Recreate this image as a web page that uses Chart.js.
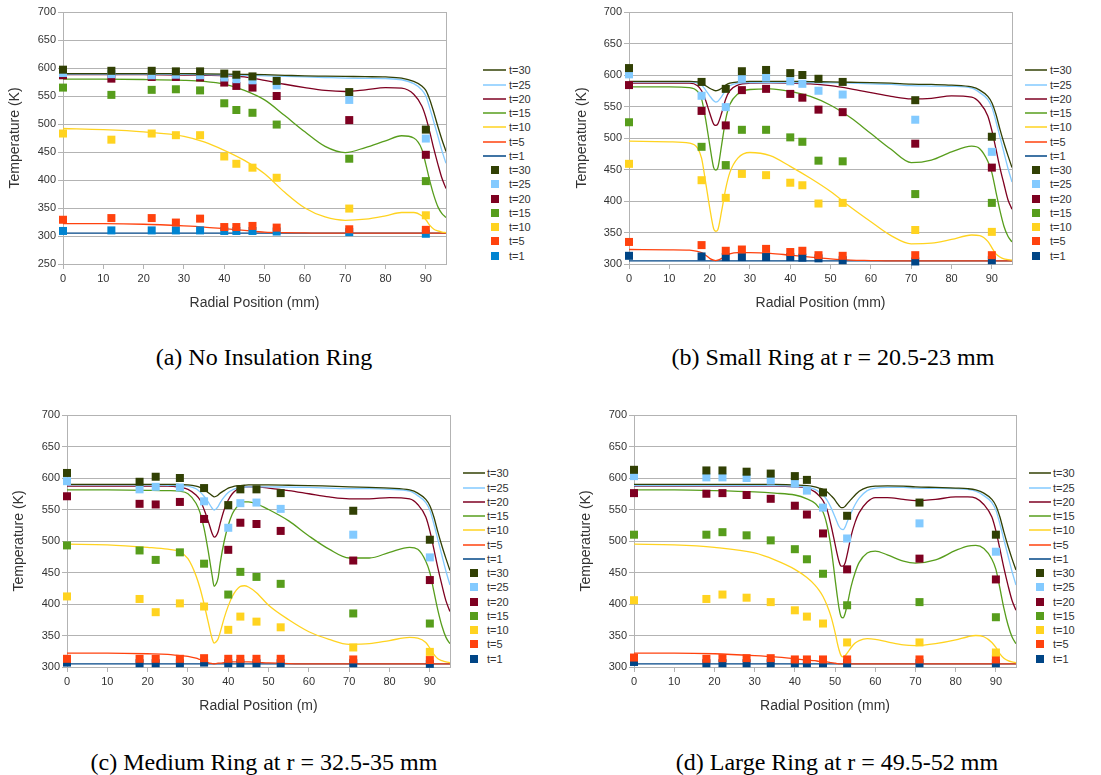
<!DOCTYPE html>
<html>
<head>
<meta charset="utf-8">
<script src="https://cdn.jsdelivr.net/npm/chart.js@4.4.1/dist/chart.umd.min.js"></script>
<style>
  body { margin: 0; background: #fff; width: 1101px; height: 775px; position: relative; overflow: hidden; font-family: "Liberation Sans", Arial, sans-serif; }
  canvas { position: absolute; }
  .legend { position: absolute; left: 0; top: 0; font-size: 11px; color: #333; }
  .legend .row { position: absolute; height: 14px; line-height: 14px; white-space: nowrap; }
  .legend .swatch-line { position: absolute; height: 2px; }
  .legend .swatch-box { position: absolute; width: 8px; height: 8px; }
  .caption { position: absolute; width: 440px; text-align: center; white-space: nowrap; font-family: "Liberation Serif", "Times New Roman", serif; font-size: 24px; line-height: 24px; color: #000; }
</style>
</head>
<body>
<canvas id="chartA" width="452" height="320" style="left:0px;top:0px"></canvas>
<canvas id="chartB" width="468" height="320" style="left:550px;top:0px"></canvas>
<canvas id="chartC" width="456" height="323" style="left:0px;top:400px"></canvas>
<canvas id="chartD" width="472" height="323" style="left:550px;top:400px"></canvas>
<div id="legends"></div>
<div class="caption" style="left:44px;top:345px">(a) No Insulation Ring</div>
<div class="caption" style="left:613px;top:345px">(b) Small Ring at r = 20.5-23 mm</div>
<div class="caption" style="left:44px;top:750px">(c) Medium Ring at r = 32.5-35 mm</div>
<div class="caption" style="left:617px;top:750px">(d) Large Ring at r = 49.5-52 mm</div>

<script>
// series names, same order for simulated lines and measured squares
const timeLabels = ['t=30', 't=25', 't=20', 't=15', 't=10', 't=5', 't=1'];
const lineColors = ['#314004', '#83caff', '#7e0021', '#579d1c', '#ffd320', '#ff420e', '#004586'];
const squareColorsA = ['#314004', '#83caff', '#7e0021', '#579d1c', '#ffd320', '#ff420e', '#0084d1'];
const squareColors = ['#314004', '#83caff', '#7e0021', '#579d1c', '#ffd320', '#ff420e', '#004586'];

// ---------- (a) No Insulation Ring ----------
const measPosA = [0, 12, 22, 28, 34, 40, 43, 47, 53, 71, 90];
const measA_t30 = [597, 595, 595, 594, 594, 590, 588, 585, 577, 557, 490];
const measA_t25 = [591, 589, 587, 588, 587, 583, 580, 578, 569, 543, 474];
const measA_t20 = [587, 581, 584, 584, 583, 574, 568, 565, 550, 507, 445];
const measA_t15 = [565, 552, 561, 562, 560, 537, 525, 520, 499, 438, 398];
const measA_t10 = [483, 472, 483, 480, 480, 442, 429, 422, 404, 349, 337];
const measA_t5 = [329, 332, 332, 324, 331, 316, 316, 318, 315, 312, 311];
const measA_t1 = [309, 310, 310, 310, 310, 309, 309, 309, 308, 307, 304];

const simXA = [0, 10, 20, 30, 35, 40, 45, 50, 55, 60, 65, 70, 75, 80, 84, 87, 89, 90, 91, 92, 93, 94, 95];
const simA_t30 = [590, 590, 590, 590, 589.5, 589, 588.5, 588, 587, 586, 585.5, 585, 584.5, 584, 582, 576, 568, 560, 543, 520, 495, 472, 451];
const simA_t25 = [589, 589, 589, 588.5, 588, 587.5, 587, 586, 585, 584, 583, 582, 581.5, 581, 579, 572, 561, 550, 528, 503, 478, 452, 430];
const simA_t20 = [588, 588, 588, 587.5, 587, 586.5, 584, 578, 571, 565, 560, 558, 561, 565, 564, 553, 532, 512, 485, 455, 428, 403, 385];
const simA_t15 = [580, 580, 579.5, 578, 576, 571, 560, 543, 515, 486, 460, 449, 458, 470, 479, 475, 455, 428, 398, 372, 352, 340, 333];
const simA_t10 = [492, 490, 486, 478, 468, 453, 435, 411, 378, 350, 334, 328, 330, 336, 342, 342, 336, 329, 319, 312, 309, 307, 306];
const simA_t5 = [322, 322, 321, 318, 316, 313, 310, 307, 306, 305.5, 305, 305, 305, 305, 305, 305, 305, 305, 305, 305, 305, 305, 305];
const simA_t1 = [305, 305, 305, 305, 305, 305, 305, 305, 305, 305, 305, 305, 305, 305, 305, 305, 305, 305, 305, 305, 305, 305, 305];

// ---------- (b) Small Ring at r = 20.5-23 mm ----------
const measPosB = [0, 18, 24, 28, 34, 40, 43, 47, 53, 71, 90];
const measB_t30 = [611, 589, 578, 606, 608, 603, 600, 594, 589, 560, 502];
const measB_t25 = [601, 567, 549, 594, 596, 590, 586, 575, 569, 529, 478];
const measB_t20 = [584, 543, 520, 576, 578, 570, 564, 545, 541, 491, 453];
const measB_t15 = [525, 486, 457, 513, 513, 501, 494, 464, 463, 411, 397];
const measB_t10 = [459, 433, 405, 443, 441, 429, 425, 396, 397, 354, 351];
const measB_t5 = [335, 330, 321, 323, 324, 319, 321, 314, 313, 314, 314];
const measB_t1 = [313, 312, 311, 311, 311, 311, 310, 309, 306, 304, 306];

const simXB = [0, 10, 15, 17, 18, 19, 20, 21, 21.5, 22, 23, 24, 25, 27, 30, 35, 40, 45, 50, 55, 60, 65, 70, 75, 80, 85, 87, 89, 90, 91, 92, 93, 94, 95];
const simB_t30 = [590, 590, 590, 589, 587, 583, 579, 576, 575, 575.5, 579, 584, 587, 589, 590, 590, 590, 589.5, 589, 588.5, 588, 587, 585.5, 585, 584, 581, 576, 566, 556, 538, 514, 492, 472, 453];
const simB_t25 = [589, 589, 589, 587, 584, 576, 567, 559, 557, 558, 566, 576, 583, 587, 588, 588, 588, 588, 587.5, 587, 586, 585, 583, 582.5, 582, 579, 572, 561, 549, 527, 502, 477, 452, 430];
const simB_t20 = [587, 587, 587, 583, 575, 560, 540, 522, 520, 522, 540, 562, 575, 584, 587, 587.5, 587, 586, 583, 578, 572, 566, 562, 563, 567, 565, 556, 535, 512, 483, 453, 427, 402, 387];
const simB_t15 = [581, 581, 580, 574, 562, 530, 490, 453, 449, 452, 490, 530, 553, 570, 577, 578, 574, 566, 552, 532, 507, 482, 461, 465, 478, 487, 483, 463, 445, 415, 385, 360, 344, 335];
const simB_t10 = [495, 494, 492, 484, 468, 430, 390, 356, 352, 354, 385, 420, 445, 468, 477, 472, 455, 436, 415, 390, 367, 345, 332, 333, 339, 346, 345, 336, 326, 316, 311, 308, 307, 306];
const simB_t5 = [323, 322.5, 322, 320, 318, 314, 309, 306, 305.5, 306, 309, 313, 316, 318, 318, 317, 314, 311, 308, 306, 305.5, 305, 305, 305, 305, 305, 305, 305, 305, 305, 305, 305, 305, 305];
const simB_t1 = [305, 305, 305, 305, 305, 305, 305, 305, 305, 305, 305, 305, 305, 305, 305, 305, 305, 305, 305, 305, 305, 305, 305, 305, 305, 305, 305, 305, 305, 305, 305, 305, 305, 305];

// ---------- (c) Medium Ring at r = 32.5-35 mm ----------
const measPosC = [0, 18, 22, 28, 34, 40, 43, 47, 53, 71, 90];
const measC_t30 = [608, 594, 602, 600, 584, 557, 582, 582, 576, 548, 502];
const measC_t25 = [595, 582, 586, 585, 563, 521, 560, 561, 551, 510, 474];
const measC_t20 = [571, 559, 558, 562, 535, 486, 529, 527, 516, 469, 438];
const measC_t15 = [493, 485, 470, 482, 464, 415, 451, 443, 432, 385, 369];
const measC_t10 = [412, 408, 387, 401, 396, 359, 380, 372, 363, 331, 324];
const measC_t5 = [313, 313, 313, 313, 314, 313, 313, 313, 313, 312, 311];
const measC_t1 = [307, 306, 306, 306, 307, 306, 306, 306, 306, 306, 305];

const simXC = [0, 10, 20, 25, 28, 30, 32, 33, 34, 35, 36, 36.5, 37, 37.5, 38, 39, 40, 41, 42, 43, 44, 45, 47, 50, 55, 60, 65, 70, 75, 80, 85, 87, 89, 90, 91, 92, 93, 94, 95];
const simC_t30 = [590, 590, 590, 590, 589.5, 589, 587, 585, 582, 577, 572, 570, 571, 573, 576, 580, 584, 586, 587.5, 588, 588.5, 589, 589, 589, 588.5, 588, 587, 586, 585, 584, 581, 576, 566, 556, 538, 514, 492, 472, 453];
const simC_t25 = [589, 589, 589, 588.5, 588, 587, 583, 578, 571, 562, 552, 549, 551, 555, 561, 570, 577, 581, 583.5, 585, 585.5, 586, 586, 586, 585.5, 585, 584, 583, 583, 582, 579, 572, 561, 549, 527, 502, 477, 452, 430];
const simC_t20 = [587, 587, 587, 587, 585, 582, 573, 565, 550, 532, 512, 506, 508, 515, 528, 550, 565, 575, 581, 584, 585.5, 586, 586, 584, 580, 575, 570, 567, 567, 569, 567, 558, 538, 516, 487, 457, 430, 405, 388];
const simC_t15 = [581, 581, 580.5, 580, 579, 575, 560, 545, 520, 485, 445, 428, 432, 442, 465, 500, 525, 543, 553, 559, 562, 562, 559, 550, 532, 508, 487, 473, 473, 482, 490, 487, 468, 450, 420, 390, 365, 347, 337];
const simC_t10 = [495, 494, 490, 487, 483, 472, 445, 425, 400, 372, 345, 338, 340, 345, 355, 378, 397, 412, 422, 428, 429, 427, 418, 398, 375, 356, 344, 336, 337, 342, 347, 346, 339, 330, 320, 313, 310, 308, 307];
const simC_t5 = [322, 322, 321, 320, 318, 317, 314, 312, 310, 307, 305.5, 305, 305.5, 306, 306, 307, 307.5, 308, 308, 308, 308, 308, 307.5, 306.5, 305.5, 305, 305, 305, 305, 305, 305, 305, 305, 305, 305, 305, 305, 305, 305];
const simC_t1 = [305, 305, 305, 305, 305, 305, 305, 305, 305, 305, 305, 305, 305, 305, 305, 305, 305, 305, 305, 305, 305, 305, 305, 305, 305, 305, 305, 305, 305, 305, 305, 305, 305, 305, 305, 305, 305, 305, 305];

// ---------- (d) Large Ring at r = 49.5-52 mm ----------
const measPosD = [0, 18, 22, 28, 34, 40, 43, 47, 53, 71, 90];
const measD_t30 = [613, 612, 612, 610, 607, 603, 597, 577, 540, 561, 510];
const measD_t25 = [603, 601, 601, 600, 596, 591, 580, 553, 504, 528, 483];
const measD_t20 = [576, 575, 576, 573, 567, 556, 542, 512, 455, 472, 439];
const measD_t15 = [510, 510, 514, 509, 501, 487, 471, 448, 398, 403, 379];
const measD_t10 = [406, 408, 415, 410, 403, 390, 380, 369, 339, 339, 323];
const measD_t5 = [315, 313, 314, 314, 314, 312, 312, 312, 312, 312, 312];
const measD_t1 = [308, 306, 306, 306, 306, 306, 306, 306, 306, 306, 306];

const simXD = [0, 10, 20, 30, 35, 40, 43, 45, 46, 47, 48, 49, 50, 50.5, 51, 51.5, 52, 52.5, 53, 54, 55, 56, 58, 60, 63, 67, 70, 75, 80, 83, 85, 87, 89, 90, 91, 92, 93, 94, 95];
const simD_t30 = [590, 590, 590, 590, 590, 589, 588, 586, 584, 582, 578, 572, 565, 560, 556, 553, 553, 555, 559, 566, 573, 579, 585, 587, 587.5, 587, 586, 585, 584, 583, 581, 576, 566, 556, 538, 514, 492, 472, 454];
const simD_t25 = [588, 588, 588, 588, 588, 587, 585, 582, 578, 573, 565, 553, 538, 530, 523, 519, 518, 522, 530, 545, 558, 568, 580, 584, 585, 585, 584, 583.5, 583, 582, 579, 572, 561, 549, 527, 502, 477, 452, 430];
const simD_t20 = [587, 587, 587, 587, 587, 586, 584, 578, 572, 564, 550, 525, 495, 480, 467, 460, 460, 465, 478, 508, 530, 545, 562, 569, 569, 566, 564, 566, 570, 570, 568, 558, 538, 516, 487, 457, 430, 406, 390];
const simD_t15 = [581, 581, 580, 578, 576, 573, 567, 560, 553, 546, 525, 490, 440, 415, 393, 380, 378, 385, 398, 428, 450, 466, 481, 484, 478, 468, 465, 470, 485, 492, 493, 488, 471, 455, 425, 393, 367, 348, 337];
const simD_t10 = [495, 494, 490, 481, 470, 455, 442, 430, 422, 412, 398, 380, 355, 340, 327, 318, 316, 318, 322, 331, 338, 342, 345, 344, 340, 335, 334, 337, 343, 348, 350, 348, 339, 331, 321, 314, 310, 308, 307];
const simD_t5 = [322, 322, 321, 318, 316, 313, 311, 310, 309, 308.5, 308, 307, 306, 305.5, 305, 305, 305, 305, 305, 305, 305, 305, 305, 305, 305, 305, 305, 305, 305, 305, 305, 305, 305, 305, 305, 305, 305, 305, 305];
const simD_t1 = [305, 305, 305, 305, 305, 305, 305, 305, 305, 305, 305, 305, 305, 305, 305, 305, 305, 305, 305, 305, 305, 305, 305, 305, 305, 305, 305, 305, 305, 305, 305, 305, 305, 305, 305, 305, 305, 305, 305];

const gridColor = '#b3b3b3';
const tickFont = { family: "'Liberation Sans', Arial, sans-serif", size: 11 };
const titleFont = { family: "'Liberation Sans', Arial, sans-serif", size: 14 };

// thin frame line on the right side of the plot area
const plotFrame = {
  id: 'plotFrame',
  beforeDatasetsDraw(chart) {
    const { ctx, chartArea } = chart;
    ctx.save();
    ctx.strokeStyle = gridColor;
    ctx.lineWidth = 1;
    ctx.beginPath();
    ctx.moveTo(Math.round(chartArea.right) + 0.5, chartArea.top);
    ctx.lineTo(Math.round(chartArea.right) + 0.5, chartArea.bottom);
    ctx.stroke();
    ctx.restore();
  }
};

function buildDatasets(simX, simSeries, measX, measSeries, boxColors) {
  const datasets = [];
  simSeries.forEach(function (vals, i) {
    datasets.push({
      label: timeLabels[i],
      data: simX.map((x, j) => ({ x: x, y: vals[j] })),
      borderColor: lineColors[i],
      backgroundColor: lineColors[i],
      borderWidth: 1.3,
      pointRadius: 0,
      cubicInterpolationMode: 'monotone',
      fill: false,
      order: 1
    });
  });
  measSeries.forEach(function (vals, i) {
    datasets.push({
      label: timeLabels[i],
      data: measX.map((x, j) => ({ x: x, y: vals[j] })),
      showLine: false,
      pointStyle: 'rect',
      pointRadius: 5.66,
      pointBorderWidth: 0,
      backgroundColor: boxColors[i],
      borderColor: boxColors[i],
      clip: false,   // squares at x=0 must not be cut in half
      order: 0
    });
  });
  return datasets;
}

function makeChart(id, datasets, cfg) {
  const ctx = document.getElementById(id).getContext('2d');
  return new Chart(ctx, {
    type: 'line',
    data: { datasets: datasets },
    options: {
      responsive: false,
      animation: false,
      devicePixelRatio: 1,
      layout: { padding: { left: 0, top: cfg.padTop, right: 6, bottom: 0 } },
      plugins: { legend: { display: false }, tooltip: { enabled: false } },
      scales: {
        x: {
          type: 'linear',
          min: 0,
          max: 95,
          ticks: { stepSize: 10, includeBounds: false, font: tickFont, color: '#333', padding: 3, maxRotation: 0 },
          grid: { drawOnChartArea: false, color: gridColor, tickLength: 5 },
          border: { color: gridColor },
          title: { display: true, text: cfg.xTitle, font: titleFont, color: '#333', padding: { top: 0, bottom: cfg.xTitlePad } },
          afterFit: function (scale) { scale.height = 56; }
        },
        y: {
          min: cfg.yMin,
          max: 700,
          ticks: { stepSize: 50, font: tickFont, color: '#333', padding: 2 },
          grid: { color: gridColor, tickLength: 5 },
          border: { color: gridColor },
          title: { display: true, text: 'Temperature (K)', font: titleFont, color: '#333', padding: { top: cfg.yTitlePad, bottom: 0 } },
          afterFit: function (scale) { scale.width = cfg.yWidth; }
        }
      }
    },
    plugins: [plotFrame]
  });
}

// legend drawn as html next to each chart
function buildLegend(pos, boxColors) {
  const holder = document.getElementById('legends');
  const wrap = document.createElement('div');
  wrap.className = 'legend';
  const rowStep = 14.26;
  const rows = [];
  timeLabels.forEach((lab, i) => rows.push({ lab: lab, kind: 'line', color: lineColors[i] }));
  timeLabels.forEach((lab, i) => rows.push({ lab: lab, kind: 'box', color: boxColors[i] }));
  rows.forEach(function (r, i) {
    const cy = pos.rowY + i * rowStep;
    const row = document.createElement('div');
    row.className = 'row';
    row.style.left = pos.textX + 'px';
    row.style.top = (cy - 7) + 'px';
    row.textContent = r.lab;
    wrap.appendChild(row);
    const sw = document.createElement('div');
    if (r.kind === 'line') {
      sw.className = 'swatch-line';
      sw.style.left = pos.lineX + 'px';
      sw.style.width = pos.lineW + 'px';
      sw.style.top = (cy - 1) + 'px';
      sw.style.background = r.color;
      sw.style.opacity = 0.75;
    } else {
      sw.className = 'swatch-box';
      sw.style.left = (pos.boxX - 4) + 'px';
      sw.style.top = (cy - 4) + 'px';
      sw.style.background = r.color;
    }
    wrap.appendChild(sw);
  });
  holder.appendChild(wrap);
}

document.addEventListener('DOMContentLoaded', function () {
  makeChart('chartA',
    buildDatasets(simXA, [simA_t30, simA_t25, simA_t20, simA_t15, simA_t10, simA_t5, simA_t1],
      measPosA, [measA_t30, measA_t25, measA_t20, measA_t15, measA_t10, measA_t5, measA_t1], squareColorsA),
    { yMin: 250, padTop: 12, yWidth: 63, yTitlePad: 7, xTitle: 'Radial Position (mm)', xTitlePad: 8.5 });

  makeChart('chartB',
    buildDatasets(simXB, [simB_t30, simB_t25, simB_t20, simB_t15, simB_t10, simB_t5, simB_t1],
      measPosB, [measB_t30, measB_t25, measB_t20, measB_t15, measB_t10, measB_t5, measB_t1], squareColors),
    { yMin: 300, padTop: 12, yWidth: 79, yTitlePad: 23.5, xTitle: 'Radial Position (mm)', xTitlePad: 8.5 });

  makeChart('chartC',
    buildDatasets(simXC, [simC_t30, simC_t25, simC_t20, simC_t15, simC_t10, simC_t5, simC_t1],
      measPosC, [measC_t30, measC_t25, measC_t20, measC_t15, measC_t10, measC_t5, measC_t1], squareColors),
    { yMin: 300, padTop: 15, yWidth: 67, yTitlePad: 10.5, xTitle: 'Radial Position (m)', xTitlePad: 8 });

  makeChart('chartD',
    buildDatasets(simXD, [simD_t30, simD_t25, simD_t20, simD_t15, simD_t10, simD_t5, simD_t1],
      measPosD, [measD_t30, measD_t25, measD_t20, measD_t15, measD_t10, measD_t5, measD_t1], squareColors),
    { yMin: 300, padTop: 15, yWidth: 84, yTitlePad: 28, xTitle: 'Radial Position (mm)', xTitlePad: 8 });

  buildLegend({ lineX: 483, lineW: 23, textX: 509, boxX: 494.7, rowY: 70.3 }, squareColorsA);
  buildLegend({ lineX: 1025, lineW: 22, textX: 1050, boxX: 1036, rowY: 70.3 }, squareColors);
  buildLegend({ lineX: 463, lineW: 22, textX: 487, boxX: 474, rowY: 473.3 }, squareColors);
  buildLegend({ lineX: 1029, lineW: 22, textX: 1053, boxX: 1040, rowY: 473.3 }, squareColors);
});
</script>
</body>
</html>
